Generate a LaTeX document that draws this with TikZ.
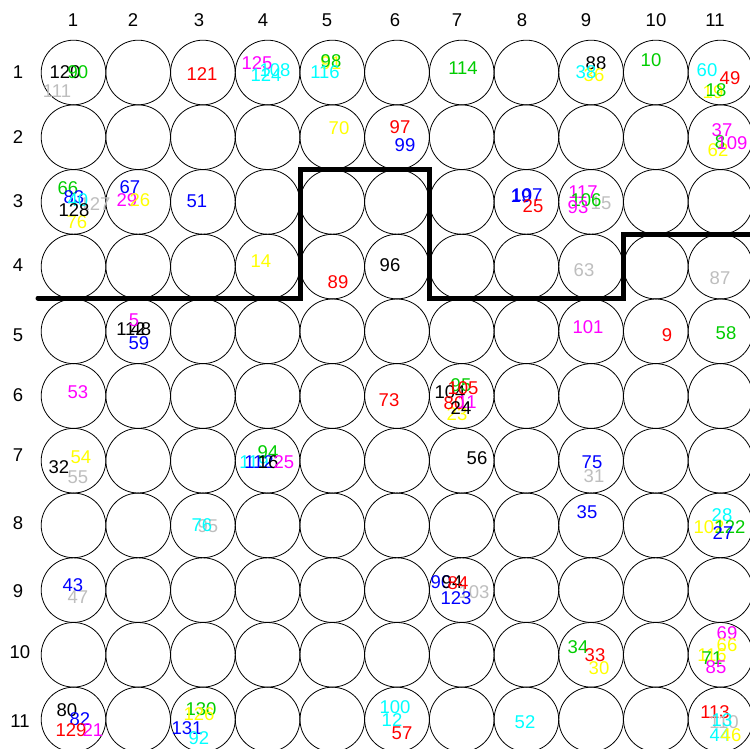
\documentclass[tikz,border=0pt]{standalone}
\usepackage{fontspec}
\setmainfont{Liberation Sans}
\definecolor{Rred}{HTML}{FF0000}
\definecolor{Rgreen}{HTML}{00CD00}
\definecolor{Rblue}{HTML}{0000FF}
\definecolor{Rcyan}{HTML}{00FFFF}
\definecolor{Rmag}{HTML}{FF00FF}
\definecolor{Ryel}{HTML}{FFFF00}
\definecolor{Rgray}{HTML}{BEBEBE}
\newcommand\lab[4]{\node[lbl,text=#3] (t-#4-#1-#2) at (#1,#2) {#4};}
\begin{document}
\begin{tikzpicture}[x=1pt,y=-1pt,
  cell/.style={circle,draw=black,line width=0.8pt,minimum size=64.6pt,inner sep=0pt},
  lbl/.style={inner sep=0pt,font=\fontsize{18.5}{18.5}\selectfont},
  axislbl/.style={inner sep=0pt,text=black,font=\fontsize{18.5}{18.5}\selectfont},
  boundary/.style={line width=5pt,line cap=round,line join=miter}]
\fill[white] (0,0) rectangle (750,749);
\useasboundingbox (0,0) rectangle (750,749);
% grid of circles
\foreach \i in {1,...,11}{
  \foreach \j in {1,...,11}{
    \node[cell] (c-\i-\j) at ({73.5+64.7*(\i-1)},{72.5+64.7*(\j-1)}) {};
  }
}
% column labels
\foreach \x/\n in {73/1,133/2,199/3,263/4,327/5,395/6,457/7,522/8,586/9,656/10,715/11}
  \node[axislbl] (col-\n) at (\x,20) {\n};
% row labels
\foreach \y/\n/\x in {72/1/18,137/2/18,201/3/18,265/4/18,335/5/18,395/6/18,455/7/18,523/8/18,591/9/18,652/10/20,721/11/20}
  \node[axislbl] (row-\n) at (\x,\y) {\n};
% boundary line
\draw[boundary] (38,298) -- (300,298) -- (300,170) -- (429,170) -- (429,298) -- (623,298) -- (623,234) -- (752,234);
% row 1
\lab{57}{91}{Rgray}{111}
\lab{65}{72}{black}{120}
\lab{78}{72}{Rgreen}{90}
\lab{202}{74}{Rred}{121}
\lab{257}{63}{Rmag}{125}
\lab{266}{75}{Rcyan}{124}
\lab{275}{70}{Rcyan}{108}
\lab{331}{63}{Ryel}{91}
\lab{331}{61}{Rgreen}{98}
\lab{325}{72}{Rcyan}{116}
\lab{463}{68}{Rgreen}{114}
\lab{596}{63}{black}{88}
\lab{594}{75}{Ryel}{36}
\lab{586}{72}{Rcyan}{38}
\lab{651}{60}{Rgreen}{10}
\lab{707}{70}{Rcyan}{60}
\lab{730}{78}{Rred}{49}
\lab{713}{92}{Ryel}{19}
\lab{716}{90}{Rgreen}{18}
% row 2
\lab{339}{128}{Ryel}{70}
\lab{400}{127}{Rred}{97}
\lab{405}{145}{Rblue}{99}
\lab{722}{130}{Rmag}{37}
\lab{718}{150}{Ryel}{62}
\lab{720}{142}{Rgreen}{8}
\lab{732}{143}{Rmag}{109}
% row 3
\lab{95}{204}{Rgray}{127}
\lab{68}{188}{Rgreen}{66}
\lab{74}{197}{Rblue}{83}
\lab{78}{200}{Rcyan}{40}
\lab{77}{222}{Ryel}{76}
\lab{74}{210}{black}{128}
\lab{130}{187}{Rblue}{67}
\lab{127}{200}{Rmag}{29}
\lab{140}{200}{Ryel}{26}
\lab{197}{201}{Rblue}{51}
\lab{521}{196}{Rblue}{19}
\lab{527}{195}{Rblue}{107}
\lab{533}{206}{Rred}{25}
\lab{601}{203}{Rgray}{15}
\lab{583}{192}{Rmag}{117}
\lab{586}{200}{Rgreen}{106}
\lab{578}{207}{Rmag}{93}
% row 4
\lab{261}{261}{Ryel}{14}
\lab{338}{282}{Rred}{89}
\lab{390}{265}{black}{96}
\lab{584}{270}{Rgray}{63}
\lab{720}{278}{Rgray}{87}
% row 5
\lab{131}{329}{black}{112}
\lab{141}{329}{black}{48}
\lab{134}{320}{Rmag}{5}
\lab{139}{343}{Rblue}{59}
\lab{588}{327}{Rmag}{101}
\lab{667}{335}{Rred}{9}
\lab{726}{333}{Rgreen}{58}
% row 6
\lab{78}{392}{Rmag}{53}
\lab{389}{400}{Rred}{73}
\lab{450}{392}{black}{104}
\lab{461}{385}{Rgreen}{95}
\lab{463}{388}{Rred}{105}
\lab{457}{414}{Ryel}{23}
\lab{454}{403}{Rred}{80}
\lab{467}{402}{Rmag}{11}
\lab{461}{408}{black}{24}
% row 7
\lab{78}{477}{Rgray}{55}
\lab{59}{467}{black}{32}
\lab{81}{457}{Ryel}{54}
\lab{254}{462}{Rcyan}{119}
\lab{259}{462}{Rblue}{112}
\lab{268}{452}{Rgreen}{94}
\lab{268}{462}{black}{16}
\lab{284}{462}{Rmag}{25}
\lab{477}{458}{black}{56}
\lab{594}{476}{Rgray}{31}
\lab{592}{462}{Rblue}{75}
% row 8
\lab{208}{526}{Rgray}{95}
\lab{202}{525}{Rcyan}{76}
\lab{587}{512}{Rblue}{35}
\lab{722}{515}{Rcyan}{28}
\lab{709}{527}{Ryel}{102}
\lab{730}{527}{Rgreen}{122}
\lab{723}{533}{Rblue}{27}
% row 9
\lab{78}{597}{Rgray}{47}
\lab{73}{585}{Rblue}{43}
\lab{474}{592}{Rgray}{103}
\lab{441}{582}{Rblue}{90}
\lab{452}{582}{black}{94}
\lab{458}{583}{Rred}{84}
\lab{456}{598}{Rblue}{123}
% row 10
\lab{578}{647}{Rgreen}{34}
\lab{599}{668}{Ryel}{30}
\lab{595}{655}{Rred}{33}
\lab{727}{633}{Rmag}{69}
\lab{727}{645}{Ryel}{66}
\lab{712}{655}{Ryel}{116}
\lab{712}{658}{Rgreen}{71}
\lab{716}{667}{Rmag}{85}
% row 11
\lab{67}{710}{black}{80}
\lab{80}{719}{Rblue}{82}
\lab{71}{730}{Rred}{129}
\lab{93}{730}{Rmag}{21}
\lab{201}{709}{Rgreen}{130}
\lab{199}{714}{Ryel}{126}
\lab{187}{728}{Rblue}{131}
\lab{199}{738}{Rcyan}{92}
\lab{395}{707}{Rcyan}{100}
\lab{392}{720}{Rcyan}{12}
\lab{402}{733}{Rred}{57}
\lab{525}{722}{Rcyan}{52}
\lab{715}{712}{Rred}{113}
\lab{724}{722}{Rgray}{110}
\lab{722}{720}{Rcyan}{13}
\lab{720}{735}{Rcyan}{44}
\lab{731}{735}{Ryel}{46}
\end{tikzpicture}
\end{document}
